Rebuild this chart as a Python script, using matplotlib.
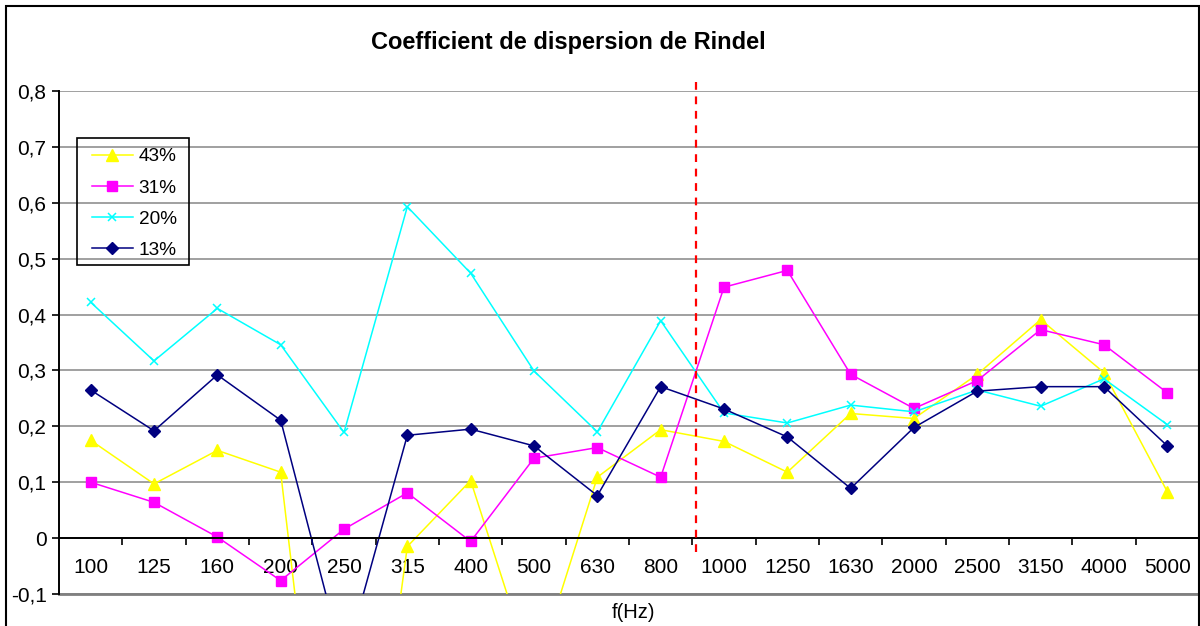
import matplotlib
matplotlib.use("Agg")
import matplotlib.pyplot as plt
from matplotlib.patches import Rectangle

plt.rcParams["font.family"] = ["Liberation Sans", "DejaVu Sans"]

# --- data ---
freqs = ["100", "125", "160", "200", "250", "315", "400", "500", "630",
         "800", "1000", "1250", "1630", "2000", "2500", "3150", "4000", "5000"]

s43 = [0.175, 0.097, 0.157, 0.118, -0.85, -0.015, 0.103, -0.25, 0.109,
       0.194, 0.173, 0.118, 0.223, 0.214, 0.293, 0.391, 0.296, 0.083]
s31 = [0.100, 0.064, 0.002, -0.076, 0.016, 0.081, -0.006, 0.143, 0.162,
       0.109, 0.449, 0.479, 0.293, 0.232, 0.282, 0.373, 0.346, 0.260]
s20 = [0.422, 0.317, 0.411, 0.346, 0.189, 0.593, 0.474, 0.299, 0.190,
       0.389, 0.224, 0.206, 0.238, 0.226, 0.265, 0.236, 0.285, 0.203]
s13 = [0.265, 0.192, 0.292, 0.211, -0.225, 0.184, 0.195, 0.165, 0.076,
       0.271, 0.231, 0.181, 0.089, 0.198, 0.263, 0.271, 0.271, 0.165]

yticks = [-0.1, 0.0, 0.1, 0.2, 0.3, 0.4, 0.5, 0.6, 0.7, 0.8]
ytick_labels = ["-0,1", "0", "0,1", "0,2", "0,3", "0,4", "0,5", "0,6", "0,7", "0,8"]

# limit between low and high frequencies (between 800 and 1000 Hz)
split_pos = 9.55

W, H = 1200, 626
fig = plt.figure(figsize=(W / 100, H / 100), dpi=100)
ax = fig.add_axes([59 / W, 1 - 594 / H, (1199 - 59) / W, (594 - 91) / H])

x = list(range(len(freqs)))
ax.plot(x, s43, color="#FFFF00", lw=1.1, marker="^", ms=8, label="43%")
ax.plot(x, s31, color="#FF00FF", lw=1.1, marker="s", ms=6.5, label="31%")
ax.plot(x, s20, color="#00FFFF", lw=1.1, marker="x", ms=6, mew=1.1, label="20%")
ax.plot(x, s13, color="#000080", lw=1.1, marker="D", ms=6, label="13%")

ax.set_xlim(-0.5, len(freqs) - 0.5)
ax.set_ylim(-0.1, 0.8)

# y axis
ax.set_yticks(yticks)
ax.set_yticklabels(ytick_labels, fontsize=15)
ax.tick_params(axis="y", direction="out", length=5, width=1.2, pad=4)
ax.yaxis.grid(True, color="#909090", lw=1.2)
ax.set_axisbelow(True)

# category axis crossing at 0
ax.spines["bottom"].set_position(("data", 0))
ax.spines["bottom"].set_linewidth(1.4)
ax.spines["left"].set_linewidth(1.4)
ax.spines["top"].set_visible(False)
ax.spines["right"].set_visible(False)
ax.set_xticks(x)
ax.set_xticklabels(freqs, fontsize=15)
ax.set_xticks([i + 0.5 for i in x[:-1]], minor=True)
ax.tick_params(axis="x", which="major", length=0, pad=14)
ax.tick_params(axis="x", which="minor", direction="out", length=5, width=1.2)
ax.axhline(-0.1, color="#808080", lw=2, clip_on=False, zorder=1)

# dashed separator
ax.plot([split_pos, split_pos], [-0.025, 0.816], color="#FF0000", lw=1.6,
        ls=(0, (3.5, 3)), clip_on=False, zorder=5)

# legend entries without frame, box drawn separately
ax.legend(loc="upper left", bbox_to_anchor=(92 / W, 1 - 148 / H),
          bbox_transform=fig.transFigure, fontsize=13.7, frameon=False,
          handlelength=2.15, handletextpad=0.3, labelspacing=0.73,
          borderpad=0, borderaxespad=0)
fig.patches.append(Rectangle((77 / W, 1 - 265 / H), (189 - 77) / W, (265 - 138) / H,
                             transform=fig.transFigure, fill=False,
                             edgecolor="black", lw=1.2, zorder=6))

fig.text(568 / W, 1 - 42 / H, "Coefficient de dispersion de Rindel",
         ha="center", va="center", fontsize=17, fontweight="bold")
fig.text(634 / W, 1 - 612 / H, "f(Hz)", ha="center", va="center", fontsize=14.5)

# chart border
fig.patches.append(Rectangle((6 / W, -0.05), (1199 - 6) / W, 1 - 6 / H + 0.05,
                             transform=fig.transFigure, fill=False,
                             edgecolor="black", lw=1.5))

fig.savefig("out.png", dpi=100)
